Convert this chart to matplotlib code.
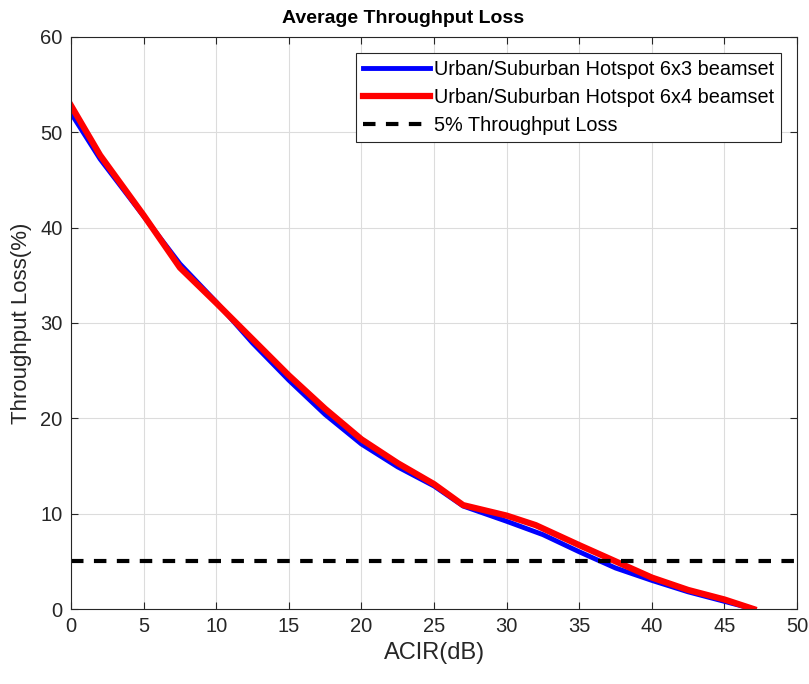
import numpy as np
import matplotlib
matplotlib.use('Agg')
import matplotlib.pyplot as plt

plt.rcParams['font.family'] = ['Liberation Sans', 'DejaVu Sans']

# ACIR values (dB) and throughput loss (%)
acir_6x3 = [0, 2, 5, 7.5, 10, 12.5, 15, 17.5, 20, 22.5, 25, 27, 30, 32.5, 35, 37.5, 40, 42.5, 45, 47]
loss_6x3 = [52.0, 47.2, 41.2, 36.2, 32.2, 27.9, 24.0, 20.4, 17.3, 14.9, 12.9, 10.8, 9.2, 7.8, 6.0, 4.3, 3.0, 1.8, 0.8, 0.0]

acir_6x4 = [0, 2, 5, 7.5, 10, 12.5, 15, 17.5, 20, 22.5, 25, 27, 30, 32, 35, 37.5, 40, 42.5, 45, 47]
loss_6x4 = [52.8, 47.6, 41.3, 35.8, 32.1, 28.3, 24.5, 21.0, 17.8, 15.3, 13.1, 10.9, 9.8, 8.8, 6.7, 5.0, 3.3, 2.0, 1.0, 0.0]

threshold = 5
labels = ['Urban/Suburban Hotspot 6x3 beamset',
          'Urban/Suburban Hotspot 6x4 beamset',
          '5% Throughput Loss']

fig = plt.figure(figsize=(8.09, 6.84), dpi=100)
ax = fig.add_axes([0.0878, 0.1096, 0.8975, 0.8364])

ax.plot(acir_6x3, loss_6x3, color='#0000ff', lw=3.5, label=labels[0])
ax.plot(acir_6x4, loss_6x4, color='#ff0000', lw=4.5, label=labels[1])
ax.axhline(threshold, color='black', lw=3, ls=(0, (3, 2.5)), label=labels[2])

ax.set_xlim(0, 50)
ax.set_ylim(0, 60)
ax.set_xticks(range(0, 51, 5))
ax.set_yticks(range(0, 61, 10))
ax.grid(True, color='#dcdcdc', lw=0.8)
ax.set_axisbelow(True)
ax.tick_params(direction='in', top=True, right=True, labelsize=14.5, colors='#262626',
               length=5, pad=6)
for s in ax.spines.values():
    s.set_color('#262626')
    s.set_linewidth(0.8)

ax.set_xlabel('ACIR(dB)', fontsize=17, color='#262626', labelpad=4)
ax.set_ylabel('Throughput Loss(%)', fontsize=16, color='#262626', labelpad=6)
ax.set_title('Average Throughput Loss', fontsize=14, fontweight='bold', pad=10, x=0.457)

leg = ax.legend(loc='upper right', fontsize=14.3, fancybox=False, framealpha=1,
                edgecolor='#262626', handlelength=3.4, handletextpad=0.2,
                borderpad=0.35, labelspacing=0.45, borderaxespad=0.8)
leg.get_frame().set_linewidth(0.8)

fig.savefig('out.png', dpi=100)
